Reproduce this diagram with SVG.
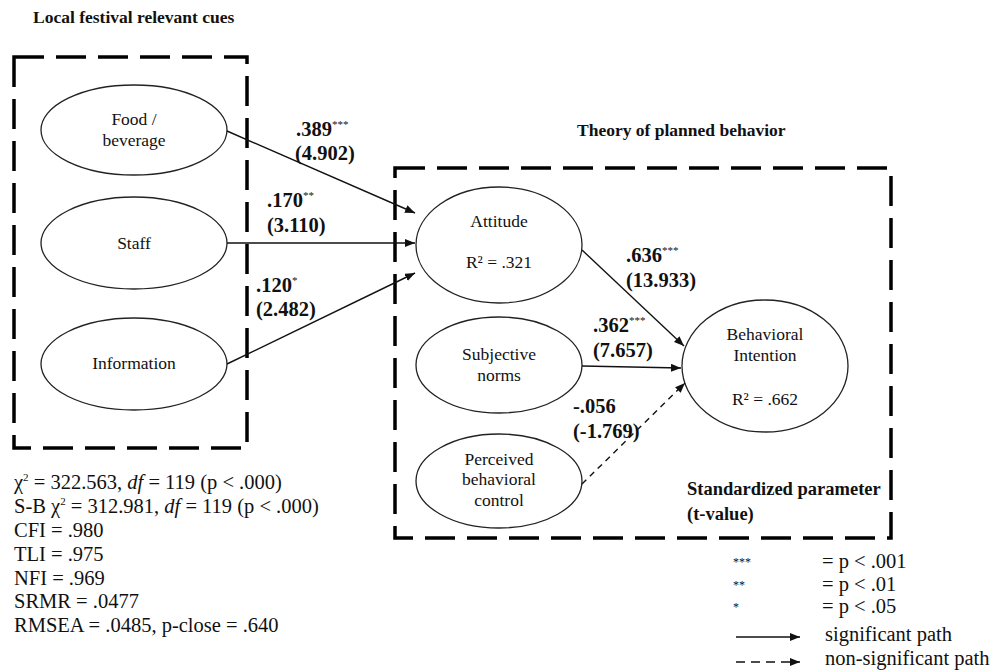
<svg xmlns="http://www.w3.org/2000/svg" width="998" height="672" viewBox="0 0 998 672">
<style>
text{font-family:"Liberation Serif","Times New Roman",serif;fill:#111}
.box{fill:none;stroke:#000;stroke-width:3.5;stroke-dasharray:30 12}
.node ellipse{fill:#fff;stroke:#222;stroke-width:1.3}
.nt{font-size:17.5px;text-anchor:middle}
.lbl{font-size:20.5px;font-weight:bold}
.sup{font-size:11px;font-weight:normal}
.ttl{font-size:17.5px;font-weight:bold}
.stat{font-size:20.5px}
.edge{fill:none;stroke:#111;stroke-width:1.4;marker-end:url(#ah)}
.dash{stroke-dasharray:6 5}
</style>
<defs>
<marker id="ah" markerUnits="userSpaceOnUse" markerWidth="10" markerHeight="8" refX="10" refY="4" orient="auto">
<path d="M0,0 L10,4 L0,8 z" fill="#111"/>
</marker>
</defs>
<rect width="998" height="672" fill="#fff"/>

<text class="ttl" x="33" y="23">Local festival relevant cues</text>
<text class="ttl" x="577" y="136">Theory of planned behavior</text>

<rect class="box" x="14" y="57" width="233" height="391"/>
<rect class="box" x="395" y="168" width="496" height="370"/>

<g id="food" class="node"><ellipse cx="134" cy="130" rx="93" ry="45"/><text class="nt" x="134" y="125">Food /</text><text class="nt" x="134" y="146">beverage</text></g>
<g id="staff" class="node"><ellipse cx="134" cy="243" rx="93" ry="46"/><text class="nt" x="134" y="249">Staff</text></g>
<g id="information" class="node"><ellipse cx="134" cy="364" rx="93" ry="46"/><text class="nt" x="134" y="369">Information</text></g>

<g id="attitude" class="node"><ellipse cx="499" cy="245" rx="83" ry="58"/><text class="nt" x="499" y="227">Attitude</text><text class="nt" x="499" y="268">R² = .321</text></g>
<g id="subjective" class="node"><ellipse cx="499" cy="365" rx="83" ry="48"/><text class="nt" x="499" y="360">Subjective</text><text class="nt" x="499" y="381">norms</text></g>
<g id="pbc" class="node"><ellipse cx="499" cy="481" rx="83" ry="47"/><text class="nt" x="499" y="465">Perceived</text><text class="nt" x="499" y="485">behavioral</text><text class="nt" x="499" y="506">control</text></g>
<g id="intention" class="node"><ellipse cx="765" cy="366" rx="83" ry="66"/><text class="nt" x="765" y="340">Behavioral</text><text class="nt" x="765" y="361">Intention</text><text class="nt" x="765" y="405">R² = .662</text></g>

<g id="connectors">
<path class="edge" d="M227,131 L415,213"/>
<path class="edge" d="M227,243 L415,243"/>
<path class="edge" d="M227,364 L415,273"/>
<path class="edge" d="M582,250 L684,346"/>
<path class="edge" d="M582,366 L681,368"/>
<path class="edge dash" d="M582,484 L685,383"/>
</g>

<g id="edge-labels">
<text class="lbl" x="296" y="136">.389<tspan class="sup" dy="-8">***</tspan></text>
<text class="lbl" x="295" y="160">(4.902)</text>
<text class="lbl" x="267" y="207">.170<tspan class="sup" dy="-8">**</tspan></text>
<text class="lbl" x="267" y="232">(3.110)</text>
<text class="lbl" x="256" y="292">.120<tspan class="sup" dy="-8">*</tspan></text>
<text class="lbl" x="256" y="316">(2.482)</text>
<text class="lbl" x="626" y="262">.636<tspan class="sup" dy="-8">***</tspan></text>
<text class="lbl" x="626" y="287">(13.933)</text>
<text class="lbl" x="593" y="332">.362<tspan class="sup" dy="-8">***</tspan></text>
<text class="lbl" x="593" y="357">(7.657)</text>
<text class="lbl" x="573" y="413">-.056</text>
<text class="lbl" x="573" y="438">(-1.769)</text>
<text class="lbl" x="687" y="495" style="font-size:18.5px">Standardized parameter</text>
<text class="lbl" x="687" y="520" style="font-size:18.5px">(t-value)</text>
</g>

<g id="fit-stats">
<text class="stat" x="14" y="489">χ<tspan font-size="11" dy="-8">2</tspan><tspan dy="8"> = 322.563, </tspan><tspan font-style="italic">df</tspan> = 119 (p &lt; .000)</text>
<text class="stat" x="14" y="513">S-B χ<tspan font-size="11" dy="-8">2</tspan><tspan dy="8"> = 312.981, </tspan><tspan font-style="italic">df</tspan> = 119 (p &lt; .000)</text>
<text class="stat" x="14" y="537">CFI = .980</text>
<text class="stat" x="14" y="561">TLI = .975</text>
<text class="stat" x="14" y="585">NFI = .969</text>
<text class="stat" x="14" y="608">SRMR = .0477</text>
<text class="stat" x="14" y="632">RMSEA = .0485,  p-close = .640</text>
</g>

<g id="legend">
<text x="733" y="566" font-size="12">***</text>
<text x="733" y="589" font-size="12">**</text>
<text x="733" y="611" font-size="12">*</text>
<text class="stat" x="822" y="568">= p &lt; .001</text>
<text class="stat" x="822" y="591">= p &lt; .01</text>
<text class="stat" x="822" y="613">= p &lt; .05</text>
<path class="edge" d="M736,637 L800,637"/>
<path class="edge" style="stroke-dasharray:9 6" d="M736,662 L800,662"/>
<text class="stat" x="825" y="641">significant path</text>
<text class="stat" x="825" y="665">non-significant path</text>
</g>
</svg>
